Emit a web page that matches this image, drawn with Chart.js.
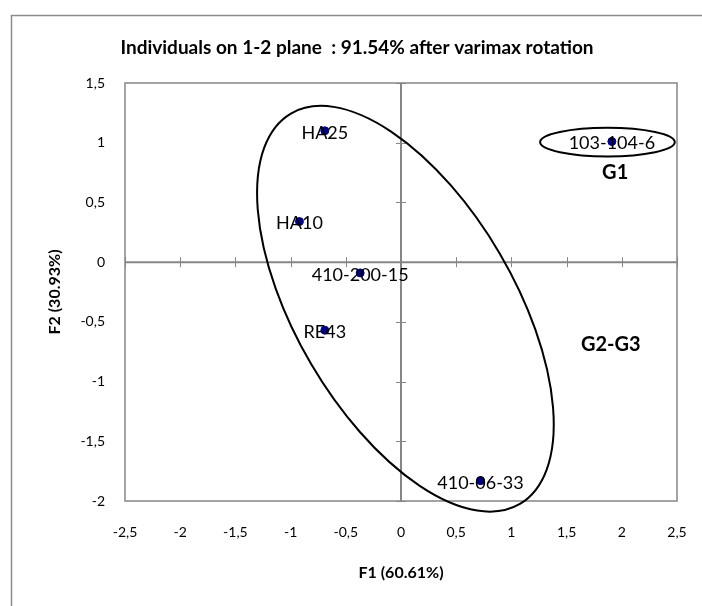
<!DOCTYPE html>
<html>
<head>
<meta charset="utf-8">
<script src="https://cdn.jsdelivr.net/npm/chart.js@4/dist/chart.umd.min.js"></script>
<style>
    html, body { margin: 0; padding: 0; background: #fff; overflow: hidden; }
    canvas { display: block; }
</style>
</head>
<body>
<canvas id="chartcanvas" width="702" height="606"></canvas>
<script>
var individuals = ["HA25", "HA10", "410-200-15", "RE43", "410-06-33", "103-104-6"];
var f1Values = [-0.69, -0.92, -0.37, -0.69, 0.72, 1.91];
var f2Values = [1.10, 0.34, -0.09, -0.57, -1.83, 1.01];

var xTicks = [-2.5, -2, -1.5, -1, -0.5, 0, 0.5, 1, 1.5, 2, 2.5];
var yTicks = [-2, -1.5, -1, -0.5, 0, 0.5, 1, 1.5];

// groups drawn as ellipses: centre (F1, F2), radii in F1 units, angle in degrees
var groupNames = ["G1", "G2-G3"];
var groupLabelX = [1.94, 1.90];
var groupLabelY = [0.75, -0.69];
var ellipseX = [1.87, 0.04];
var ellipseY = [1.005, -0.39];
var ellipseRx = [0.61, 2.05];
var ellipseRy = [0.13, 0.99];
var ellipseAngle = [0, 59.6];

var points = f1Values.map(function (v, i) {
    return { x: v, y: f2Values[i] };
});

function comma(v) {
    return String(v).replace(".", ",");
}

var plotDecor = {
    id: "plotDecor",
    beforeDraw: function (chart) {
        var ctx = chart.ctx;
        ctx.save();
        // outer frame
        ctx.strokeStyle = "#8c8c8c";
        ctx.lineWidth = 1.5;
        ctx.strokeRect(11.5, 15.5, 760, 700);
        // title
        ctx.fillStyle = "#000";
        ctx.font = "bold 19px Lato";
        ctx.textAlign = "center";
        ctx.textBaseline = "middle";
        ctx.fillText("Individuals on 1-2 plane  : 91.54% after varimax rotation", 357, 48);
        ctx.restore();
    },
    beforeDatasetsDraw: function (chart) {
        var ctx = chart.ctx;
        var a = chart.chartArea;
        var xs = chart.scales.x;
        var ys = chart.scales.y;
        ctx.save();
        ctx.strokeStyle = "#868686";
        ctx.lineWidth = 1.5;
        ctx.strokeRect(a.left, a.top, a.right - a.left, a.bottom - a.top);

        // axes through zero
        var x0 = xs.getPixelForValue(0);
        var y0 = ys.getPixelForValue(0);
        ctx.lineWidth = 2;
        ctx.beginPath();
        ctx.moveTo(a.left, y0); ctx.lineTo(a.right, y0);
        ctx.moveTo(x0, a.top); ctx.lineTo(x0, a.bottom);
        ctx.stroke();
        ctx.lineWidth = 1;
        ctx.beginPath();
        xTicks.forEach(function (v) {
            var px = Math.round(xs.getPixelForValue(v)) + 0.5;
            ctx.moveTo(px, y0 - 5); ctx.lineTo(px, y0 + 5);
        });
        yTicks.forEach(function (v) {
            var py = Math.round(ys.getPixelForValue(v)) + 0.5;
            ctx.moveTo(x0 - 5, py); ctx.lineTo(x0 + 5, py);
        });
        ctx.stroke();
        ctx.restore();
    },
    afterDatasetsDraw: function (chart) {
        var ctx = chart.ctx;
        var xs = chart.scales.x;
        var ys = chart.scales.y;
        var unit = xs.getPixelForValue(1) - xs.getPixelForValue(0);
        ctx.save();

        // point labels
        ctx.fillStyle = "#000";
        ctx.font = "18px Lato";
        ctx.textAlign = "center";
        ctx.textBaseline = "middle";
        points.forEach(function (p, i) {
            ctx.fillText(individuals[i], xs.getPixelForValue(p.x), ys.getPixelForValue(p.y) + 2);
        });

        // group ellipses
        ctx.strokeStyle = "#000";
        ctx.lineWidth = 2;
        ellipseX.forEach(function (cx, i) {
            ctx.beginPath();
            ctx.ellipse(xs.getPixelForValue(cx), ys.getPixelForValue(ellipseY[i]),
                ellipseRx[i] * unit, ellipseRy[i] * unit,
                ellipseAngle[i] * Math.PI / 180, 0, Math.PI * 2);
            ctx.stroke();
        });

        ctx.font = "bold 20px Lato";
        groupNames.forEach(function (g, i) {
            ctx.fillText(g, xs.getPixelForValue(groupLabelX[i]), ys.getPixelForValue(groupLabelY[i]));
        });
        ctx.restore();
    }
};

var ctx = document.getElementById("chartcanvas");

var chart = new Chart(ctx, {
    type: "scatter",
    data: {
        datasets: [
            {
                label: "Individuals",
                data: points,
                backgroundColor: "#000080",
                borderColor: "#000080",
                pointRadius: 4,
                pointHoverRadius: 4
            }
        ]
    },
    options: {
        responsive: false,
        animation: false,
        layout: {
            padding: { top: 83, right: 25, bottom: 0, left: 0 }
        },
        plugins: {
            legend: { display: false },
            tooltip: { enabled: false }
        },
        scales: {
            x: {
                type: "linear",
                min: -2.5,
                max: 2.5,
                afterFit: function (scale) {
                    // tick padding would otherwise be added to the side margins
                    scale.height = 105;
                    scale.paddingLeft = 12;
                    scale.paddingRight = 12;
                },
                afterBuildTicks: function (scale) {
                    scale.ticks = xTicks.map(function (v) { return { value: v }; });
                },
                grid: { display: false, drawTicks: false },
                border: { display: false },
                ticks: {
                    padding: 23,
                    maxRotation: 0,
                    color: "#000",
                    font: { family: "Lato", size: 14 },
                    callback: function (v) { return comma(v); }
                },
                title: {
                    display: true,
                    text: "F1 (60.61%)",
                    color: "#000",
                    font: { family: "Lato", size: 16, weight: "bold" },
                    padding: { top: 0, bottom: 24 }
                }
            },
            y: {
                type: "linear",
                min: -2,
                max: 1.5,
                afterFit: function (scale) { scale.width = 125; },
                afterBuildTicks: function (scale) {
                    scale.ticks = yTicks.map(function (v) { return { value: v }; });
                },
                grid: { display: false, drawTicks: false },
                border: { display: false },
                ticks: {
                    padding: 20,
                    color: "#000",
                    font: { family: "Lato", size: 14 },
                    callback: function (v) { return comma(v); }
                },
                title: {
                    display: true,
                    text: "F2 (30.93%)",
                    color: "#000",
                    font: { family: "Lato", size: 16, weight: "bold" },
                    padding: { top: 45, bottom: 0 }
                }
            }
        }
    },
    plugins: [plotDecor]
});
</script>
</body>
</html>
